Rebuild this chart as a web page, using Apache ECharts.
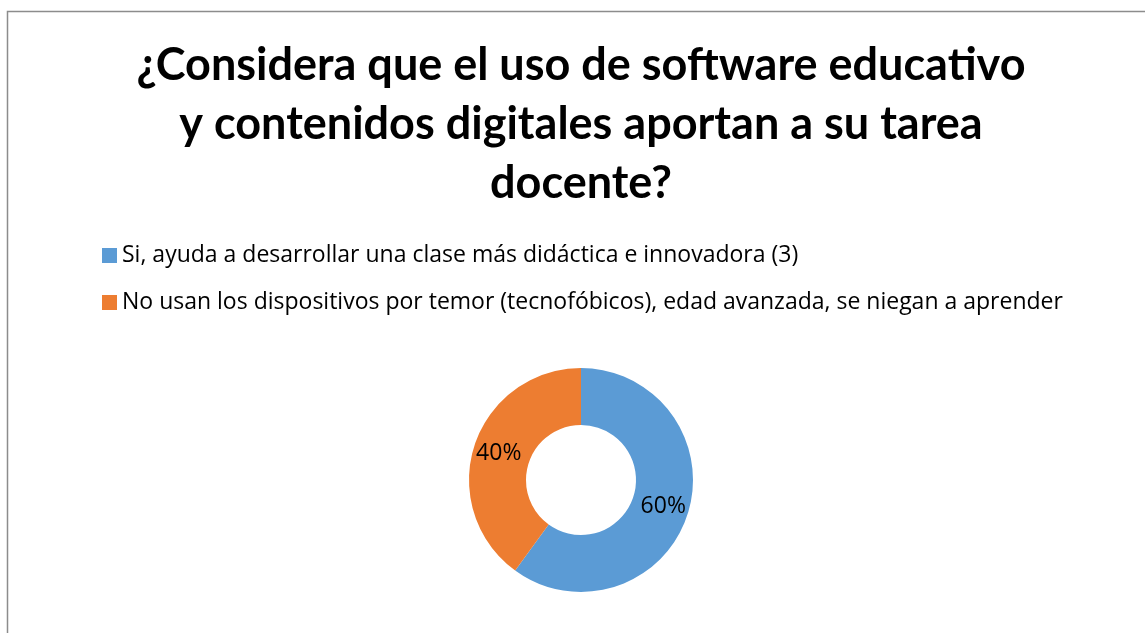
<!DOCTYPE html>
<html>
<head>
<meta charset="utf-8">
<script src="https://cdn.jsdelivr.net/npm/echarts@6/dist/echarts.min.js"></script>
<style>
  html, body { margin: 0; padding: 0; background: #fff; overflow: hidden; }
  #main { position: absolute; left: 0; top: 0; width: 1162px; height: 633px; }
</style>
</head>
<body>
<div id="main"></div>
<script>
const titleText = '¿Considera que el uso de software educativo\ny contenidos digitales aportan a su tarea\ndocente?'
const categories = [
  'Si, ayuda a desarrollar una clase más didáctica e innovadora (3)',
  'No usan los dispositivos por temor (tecnofóbicos), edad avanzada, se niegan a aprender'
]
const values = [3, 2]
const colors = ['#5B9BD5', '#ED7D31']

const titleFont = 'Lato, "Open Sans", sans-serif'
const textFont = '"Open Sans", Lato, sans-serif'

const chart = echarts.init(document.getElementById('main'))
chart.setOption({
  animation: false,
  color: colors,
  title: {
    text: titleText,
    left: 'center',
    top: 31,
    textStyle: {
      fontFamily: titleFont,
      fontWeight: 'bold',
      fontSize: 45,
      lineHeight: 59,
      color: '#000'
    }
  },
  legend: {
    orient: 'vertical',
    left: 97,
    top: 239,
    icon: 'rect',
    itemWidth: 15,
    itemHeight: 15,
    itemGap: 24,
    data: categories,
    textStyle: {
      fontFamily: textFont,
      fontSize: 23,
      color: '#000'
    }
  },
  graphic: [{
    type: 'rect',
    silent: true,
    shape: { x: 7.5, y: 11.5, width: 1300, height: 800 },
    style: { fill: 'none', stroke: '#8c8c8c', lineWidth: 1.5 }
  }],
  series: [{
    type: 'pie',
    center: [581, 480],
    radius: [55, 112],
    startAngle: 90,
    clockwise: true,
    label: {
      show: true,
      position: 'inside',
      formatter: '{d}%',
      fontFamily: textFont,
      fontSize: 23,
      color: '#000'
    },
    labelLine: { show: false },
    itemStyle: { borderWidth: 0 },
    data: categories.map((name, i) => ({ name: name, value: values[i] }))
  }]
})
</script>
</body>
</html>
